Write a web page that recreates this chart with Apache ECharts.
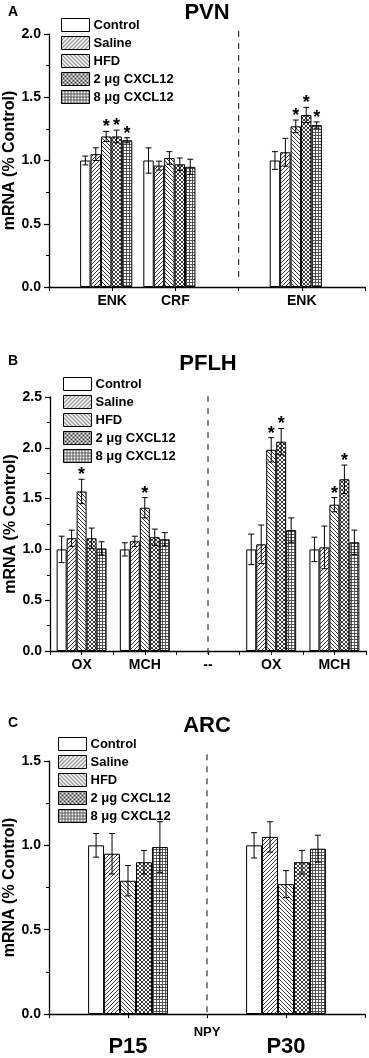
<!DOCTYPE html>
<html>
<head>
<meta charset="utf-8">
<script src="https://cdn.jsdelivr.net/npm/echarts@6/dist/echarts.min.js"></script>
<style>
html, body { margin: 0; padding: 0; background: #fff; }
#main { width: 369px; height: 1058px; }
</style>
</head>
<body>
<div id="main"></div>
<script>
// groups shown in every panel
var groupNames = ['Control', 'Saline', 'HFD', '2 μg CXCL12', '8 μg CXCL12'];

// A - PVN (blank slots keep the layout of the original axis)
var pvnCats = ['', 'ENK', 'CRF', '', 'ENK', ''];
var pvnMean = [
    ['-', 1.00, 1.00, '-', 1.00, '-'],
    ['-', 1.05, 0.96, '-', 1.065, '-'],
    ['-', 1.19, 1.02, '-', 1.27, '-'],
    ['-', 1.19, 0.97, '-', 1.36, '-'],
    ['-', 1.16, 0.95, '-', 1.28, '-']
];
var pvnErr = [
    ['-', 0.035, 0.10, '-', 0.07, '-'],
    ['-', 0.05, 0.035, '-', 0.11, '-'],
    ['-', 0.04, 0.05, '-', 0.05, '-'],
    ['-', 0.05, 0.05, '-', 0.06, '-'],
    ['-', 0.02, 0.06, '-', 0.025, '-']
];
var pvnSig = [
    [0, 0, 0, 0, 0, 0],
    [0, 0, 0, 0, 0, 0],
    [0, 1, 0, 0, 1, 0],
    [0, 1, 0, 0, 1, 0],
    [0, 1, 0, 0, 1, 0]
];

// B - PFLH
var pflhCats = ['OX', 'MCH', '--', 'OX', 'MCH'];
var pflhMean = [
    [1.00, 1.00, '-', 1.00, 1.00],
    [1.11, 1.08, '-', 1.05, 1.02],
    [1.57, 1.41, '-', 1.98, 1.44],
    [1.11, 1.12, '-', 2.06, 1.69],
    [1.01, 1.10, '-', 1.19, 1.07]
];
var pflhErr = [
    [0.13, 0.065, '-', 0.15, 0.12],
    [0.08, 0.05, '-', 0.19, 0.21],
    [0.12, 0.10, '-', 0.12, 0.07],
    [0.10, 0.08, '-', 0.13, 0.14],
    [0.065, 0.065, '-', 0.12, 0.12]
];
var pflhSig = [
    [0, 0, 0, 0, 0],
    [0, 0, 0, 0, 0],
    [1, 1, 0, 1, 1],
    [0, 0, 0, 1, 1],
    [0, 0, 0, 0, 0]
];

// C - ARC (NPY)
var arcCats = ['P15', 'P30'];
var arcMean = [
    [1.00, 1.00],
    [0.95, 1.05],
    [0.79, 0.77],
    [0.90, 0.90],
    [0.99, 0.98]
];
var arcErr = [
    [0.07, 0.075],
    [0.12, 0.09],
    [0.09, 0.08],
    [0.07, 0.07],
    [0.15, 0.08]
];

var FONT = "'Liberation Sans', Arial, sans-serif";

//填充图案
function makePattern(kind) {
    var size = kind == 'grid' ? 3 : 4;
    var c = document.createElement('canvas');
    c.width = size;
    c.height = size;
    var ctx = c.getContext('2d');
    ctx.fillStyle = '#fff';
    ctx.fillRect(0, 0, size, size);
    ctx.strokeStyle = '#222';
    ctx.lineWidth = 0.9;
    ctx.beginPath();
    if (kind == 'fwd' || kind == 'cross') {
        ctx.moveTo(-1, size + 1); ctx.lineTo(size + 1, -1);
        ctx.moveTo(-1, 1); ctx.lineTo(1, -1);
        ctx.moveTo(size - 1, size + 1); ctx.lineTo(size + 1, size - 1);
    }
    if (kind == 'back' || kind == 'cross') {
        ctx.moveTo(-1, -1); ctx.lineTo(size + 1, size + 1);
        ctx.moveTo(-1, size - 1); ctx.lineTo(1, size + 1);
        ctx.moveTo(size - 1, -1); ctx.lineTo(size + 1, 1);
    }
    if (kind == 'grid') {
        ctx.strokeStyle = '#444';
        ctx.moveTo(0.5, 0); ctx.lineTo(0.5, size);
        ctx.moveTo(0, 0.5); ctx.lineTo(size, 0.5);
    }
    ctx.stroke();
    return { image: c, repeat: 'repeat' };
}

var fills = ['#fff', makePattern('fwd'), makePattern('back'), makePattern('cross'), makePattern('grid')];

var series = [];

function addPanel(gi, cats, mean, err, sig, widths, padWidth) {
    var xCat = gi * 2, yIdx = gi;
    var all = widths.slice();
    if (padWidth) all.push(padWidth);
    for (var k = 0; k < mean.length; k++) {
        series.push({
            type: 'bar',
            name: groupNames[k],
            xAxisIndex: xCat,
            yAxisIndex: yIdx,
            barWidth: (widths[k] * 100) + '%',
            barGap: '0%',
            itemStyle: { color: fills[k], borderColor: '#000', borderWidth: 1 },
            data: mean[k]
        });
    }
    if (padWidth) {
        series.push({
            type: 'bar', name: 'pad', xAxisIndex: xCat, yAxisIndex: yIdx,
            barWidth: (padWidth * 100) + '%', barGap: '0%',
            data: cats.map(function () { return '-'; })
        });
    }
    for (var k = 0; k < mean.length; k++) {
        var items = [];
        for (var i = 0; i < cats.length; i++) {
            if (typeof mean[k][i] == 'number') {
                items.push([i, mean[k][i], err[k][i], sig ? sig[k][i] : 0]);
            }
        }
        series.push({
            type: 'custom',
            name: 'err' + gi + '_' + k,
            xAxisIndex: xCat,
            yAxisIndex: yIdx,
            z: 5,
            silent: true,
            clip: false,
            renderItem: (function (kk) {
                return function (params, api) {
                    var ci = api.value(0), v = api.value(1), e = api.value(2), s = api.value(3);
                    var band = api.size([1, 0])[0];
                    var total = 0;
                    for (var j = 0; j < all.length; j++) total += all[j] * band;
                    var off = -total / 2;
                    for (var j = 0; j < kk; j++) off += all[j] * band;
                    off += all[kk] * band / 2;
                    var x = api.coord([ci, v])[0] + off;
                    var yt = api.coord([ci, v + e])[1];
                    var yb = api.coord([ci, v - e])[1];
                    var ls = { stroke: '#000', lineWidth: 1 };
                    var kids = [
                        { type: 'line', shape: { x1: x, y1: yt, x2: x, y2: yb }, style: ls },
                        { type: 'line', shape: { x1: x - 3, y1: yt, x2: x + 3, y2: yt }, style: ls },
                        { type: 'line', shape: { x1: x - 3, y1: yb, x2: x + 3, y2: yb }, style: ls }
                    ];
                    if (s) {
                        kids.push({
                            type: 'text',
                            style: {
                                text: '*', x: x, y: yt - 4,
                                font: 'bold 18px ' + FONT,
                                textAlign: 'center', textVerticalAlign: 'middle', fill: '#000'
                            }
                        });
                    }
                    return { type: 'group', children: kids };
                };
            })(k),
            data: items
        });
    }
}

addPanel(0, pvnCats, pvnMean, pvnErr, pvnSig, [0.165, 0.165, 0.165, 0.165, 0.165], 0.19);
addPanel(1, pflhCats, pflhMean, pflhErr, pflhSig, [0.158, 0.158, 0.158, 0.158, 0.158], 0);
addPanel(2, arcCats, arcMean, arcErr, null, [0.101, 0.101, 0.101, 0.101, 0.101], 0);

// dashed dividers, on the tick axes
var dividers = [
    { grid: 0, x: 3, y: [0.08, 2.05] },
    { grid: 1, x: 5, y: [-0.03, 2.57] },
    { grid: 2, x: 2, y: [0.01, 1.56] }
];
dividers.forEach(function (d) {
    series.push({
        type: 'line', xAxisIndex: d.grid * 2 + 1, yAxisIndex: d.grid,
        symbol: 'none', clip: false, silent: true,
        lineStyle: { color: '#333', width: 1.2, type: [6, 6] },
        data: [[d.x, d.y[0]], [d.x, d.y[1]]]
    });
});

function catAxis(gi, cats, labelSize, margin, extra) {
    var ax = {
        type: 'category', gridIndex: gi, data: cats, position: 'bottom',
        boundaryGap: true,
        axisLine: { onZero: false, lineStyle: { color: '#000', width: 1.3 } },
        axisTick: { show: false },
        axisLabel: { interval: 0, color: '#000', fontSize: labelSize, fontWeight: 'bold', fontFamily: FONT, margin: margin },
        splitLine: { show: false }
    };
    for (var key in extra) ax[key] = extra[key];
    return ax;
}
function tickAxis(gi, max) {
    return {
        type: 'value', gridIndex: gi, min: 0, max: max, interval: 1, position: 'bottom',
        axisLine: { show: false },
        axisTick: { show: true, length: 4, lineStyle: { color: '#000', width: 1 } },
        axisLabel: { show: false },
        splitLine: { show: false }
    };
}
function valAxis(gi, max) {
    return {
        type: 'value', gridIndex: gi, min: 0, max: max, interval: 0.5,
        name: 'mRNA (% Control)', nameLocation: 'middle', nameGap: 31, nameMoveOverlap: false,
        nameTextStyle: { color: '#000', fontSize: 16, fontWeight: 'bold', fontFamily: FONT },
        axisLine: { show: true, onZero: false, lineStyle: { color: '#000', width: 1.3 } },
        axisTick: { show: true, length: 5, lineStyle: { color: '#000', width: 1.2 } },
        minorTick: { show: true, splitNumber: 2, length: 3, lineStyle: { color: '#000', width: 1 } },
        axisLabel: {
            color: '#000', fontSize: 14, fontWeight: 'bold', fontFamily: FONT, margin: 8,
            formatter: function (v) { return v.toFixed(1); }
        },
        splitLine: { show: false }
    };
}

function legendAt(left, top) {
    return {
        orient: 'vertical', left: left, top: top,
        itemWidth: 28, itemHeight: 13, itemGap: 4, icon: 'rect',
        itemStyle: { borderColor: '#000', borderWidth: 1 },
        textStyle: { color: '#000', fontSize: 13, fontWeight: 'bold', fontFamily: FONT, padding: [0, 0, 0, -1] },
        selectedMode: false,
        data: groupNames
    };
}

function label(text, x, y, size) {
    return {
        type: 'text', x: x, y: y,
        style: { text: text, font: 'bold ' + size + 'px ' + FONT, textAlign: 'center', textVerticalAlign: 'middle', fill: '#000' }
    };
}

var chart = echarts.init(document.getElementById('main'), null, { renderer: 'canvas' });
chart.setOption({
    animation: false,
    backgroundColor: '#fff',
    grid: [
        { left: 49, right: 4, top: 34, height: 253, outerBoundsMode: 'none' },
        { left: 50, right: 3, top: 397, height: 254, outerBoundsMode: 'none' },
        { left: 49, right: 4, top: 761, height: 253, outerBoundsMode: 'none' }
    ],
    xAxis: [
        catAxis(0, pvnCats, 14, 7, { boundaryGap: false }),
        tickAxis(0, 5),
        catAxis(1, pflhCats, 14, 7, {}),
        tickAxis(1, 10),
        catAxis(2, arcCats, 22, 22, {
            name: 'NPY', nameLocation: 'middle', nameGap: 12, nameMoveOverlap: false,
            nameTextStyle: { color: '#000', fontSize: 13, fontWeight: 'bold', fontFamily: FONT }
        }),
        tickAxis(2, 4)
    ],
    yAxis: [valAxis(0, 2.0), valAxis(1, 2.5), valAxis(2, 1.5)],
    legend: [legendAt(56, 13), legendAt(58, 372), legendAt(53, 732)],
    graphic: [
        label('A', 13, 12, 14), label('PVN', 207, 13, 22),
        label('B', 13, 361, 14), label('PFLH', 208, 364, 22),
        label('C', 13, 723, 14), label('ARC', 207, 726, 22)
    ],
    series: series
});
</script>
</body>
</html>
